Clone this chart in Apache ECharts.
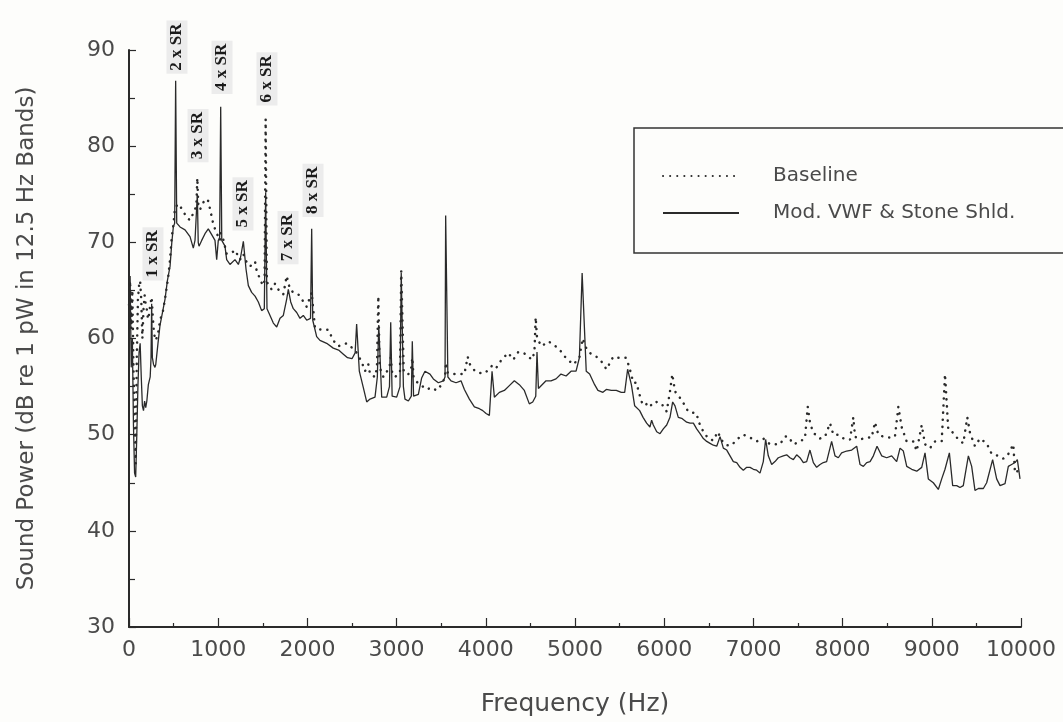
<!DOCTYPE html>
<html>
<head>
<meta charset="utf-8">
<script src="https://cdn.jsdelivr.net/npm/echarts@6/dist/echarts.min.js"></script>
<style>
  html, body { margin: 0; padding: 0; background: #fdfdfb; }
  #chart { width: 1063px; height: 722px; }
</style>
</head>
<body>
<div id="chart"></div>
<script>
// [frequency Hz, dB], 12.5 Hz bands
const baselineData = [
  [0,63.5],[12.5,66],[25,61],[37.5,65],[50,57],[62.5,52],[75,47],[87.5,58],[100,64],[112.5,65.5],
  [125,66],[137.5,64],[150,60],[162.5,63],[175,64.5],[187.5,63.5],[200,63],[212.5,62],[225,62.5],
  [237.5,63.5],[254,64.3],[265,62.5],[280,60.5],[300,59.8],[325,60.5],[350,62],[376,62.6],[404,64.1],
  [441,66.5],[460,68.2],[479,70.5],[497,71.8],[516,73.6],[553,74],[591,73.5],[647,72.6],[684,72.3],
  [740,73.4],[756,74],[766,76.7],[776,74],[796,73.4],[852,74.5],[889,74.3],[945,71.9],[975,71.1],
  [1020,70.2],[1028,71],[1057,70.3],[1095,68.8],[1151,68.9],[1188,69.2],[1244,68.2],[1282,68.8],
  [1300,68.2],[1357,67.5],[1413,68],[1432,67],[1469,66.2],[1500,65.5],[1520,66],[1532,82.8],[1545,66],
  [1562,65.5],[1600,65.1],[1637,65.7],[1693,64.8],[1730,64.6],[1768,66.5],[1805,65.1],[1842,64.8],
  [1898,64.6],[1936,64.1],[1992,63.3],[2048,64.8],[2085,61.1],[2104,61.1],[2160,60.9],[2235,60.9],
  [2290,59.8],[2347,59.2],[2440,59.5],[2478,59.2],[2534,58.8],[2608,57.6],[2646,56.6],[2683,57.3],
  [2702,56.3],[2758,56],[2780,57],[2795,64.4],[2810,57],[2852,56],[2920,57],[2934,58],[2950,56.5],
  [2983,56],[3038,56.5],[3052,67],[3062,67],[3080,56.5],[3132,56.3],[3165,57],[3176,58],[3190,56],
  [3225,55.5],[3337,54.7],[3393,54.9],[3449,54.6],[3505,55.2],[3543,56],[3554,57.5],[3566,56.5],
  [3610,56.3],[3666,56.3],[3760,56.3],[3797,58.1],[3823,57.3],[3879,56.6],[3935,56.4],[3991,56.4],
  [4084,57.3],[4121,57],[4177,57.8],[4252,58.5],[4308,57.8],[4364,58.6],[4420,58.5],[4458,58.3],
  [4514,57.8],[4545,58.5],[4559,62.2],[4575,60],[4626,59.2],[4701,59.7],[4757,59.4],[4831,58.8],
  [4888,58.1],[4944,57.6],[4981,57.3],[5049,58],[5086,60],[5126,59],[5166,58.5],[5241,58.1],
  [5297,57.6],[5353,56.8],[5428,58.1],[5484,58],[5522,58],[5570,58],[5607,57.1],[5654,55.4],
  [5690,55.4],[5710,54.6],[5748,53.4],[5785,53],[5822,53.4],[5860,53],[5916,53.4],[5972,53.2],
  [6028,52.4],[6065,54.5],[6091,56.3],[6121,54.5],[6196,53.6],[6270,52.4],[6364,52.2],[6383,51.4],
  [6439,50.3],[6495,49.6],[6551,49.4],[6600,50.3],[6645,49.4],[6701,48.9],[6757,48.9],[6813,49.5],
  [6887,50],[6962,49.7],[7037,49.3],[7111,49.6],[7186,49],[7298,49],[7354,49.8],[7392,49.8],
  [7448,49],[7504,49.2],[7578,49.6],[7609,52.9],[7635,51.2],[7672,50.2],[7747,49.6],[7803,49.8],
  [7859,51.2],[7896,50],[7952,50],[8027,49.5],[8083,49.5],[8120,51.8],[8139,49.8],[8195,49.5],
  [8270,49.7],[8326,49.7],[8363,51.3],[8400,50],[8456,49.8],[8531,49.7],[8587,49.8],[8625,52.9],
  [8662,50.8],[8718,49.3],[8793,49.3],[8831,48.3],[8887,51],[8924,49],[8980,48.6],[9036,49.3],
  [9111,49.3],[9148,56.3],[9185,50.5],[9241,50.2],[9297,49.5],[9353,49.1],[9398,51.8],[9428,50.2],
  [9484,48.8],[9540,49.6],[9615,49.1],[9671,48],[9746,47.8],[9802,47.5],[9858,48],[9914,49],
  [9933,46],[10000,46.5]
];

const modData = [
  [0,61],[12.5,66.5],[25,57],[37.5,60],[50,51],[62.5,46],[75,45.6],[87.5,50],[100,55],[112.5,58.5],
  [125,59.5],[137.5,56],[150,53],[162.5,52.5],[175,53.5],[187.5,52.8],[200,53.5],[217,55.2],
  [237.5,56],[247,58],[254,63.6],[262,58],[275,57.3],[291,57],[300,57.3],[325,59.5],[348,61.4],
  [375,62.7],[404,64.1],[430,66],[460,67.5],[480,70],[497,71.6],[512,72],[523,86.8],[535,72],
  [572,71.6],[628,71.3],[684,70.6],[721,69.4],[740,70.2],[756,70],[766,75],[776,70],[785,69.6],
  [815,70.2],[852,70.9],[889,71.4],[927,70.8],[964,70.2],[983,68.2],[1001,70.2],[1016,70.5],
  [1028,84.1],[1040,70.2],[1076,69.6],[1095,68.2],[1132,67.7],[1188,68.2],[1226,67.7],[1252,68.5],
  [1282,70.1],[1312,67.2],[1338,65.5],[1375,64.8],[1413,64.4],[1450,63.8],[1487,62.9],[1517,63.1],
  [1532,75.2],[1547,63.1],[1581,62.4],[1618,61.6],[1656,61.2],[1693,62.1],[1730,62.4],[1768,64.1],
  [1786,65.1],[1813,63.8],[1842,63.1],[1880,62.7],[1917,62.1],[1954,62.4],[1992,61.9],[2035,62.1],
  [2048,71.4],[2060,61.9],[2104,60.2],[2141,59.8],[2216,59.5],[2290,59],[2350,58.8],[2400,58.4],
  [2450,58],[2500,57.9],[2535,58.5],[2552,61.5],[2582,56.6],[2627,54.9],[2665,53.4],[2702,53.7],
  [2758,53.9],[2784,56],[2800,61.4],[2833,53.9],[2889,53.9],[2920,55],[2934,61.7],[2950,54],
  [3001,53.9],[3038,55],[3052,66.8],[3062,66.8],[3076,55],[3094,53.7],[3132,53.5],[3165,54],
  [3176,59.7],[3190,54],[3206,53.9],[3244,54.2],[3281,55.9],[3318,56.6],[3374,56.3],[3412,55.8],
  [3468,55.4],[3524,55.6],[3543,56],[3550,72.8],[3562,72.8],[3575,56],[3610,55.6],[3666,55.4],
  [3722,55.6],[3760,54.7],[3816,53.7],[3872,52.9],[3928,52.7],[3966,52.5],[4003,52.2],[4040,52],
  [4070,56.6],[4096,53.9],[4152,54.4],[4208,54.6],[4264,55.1],[4320,55.6],[4376,55.2],[4432,54.6],
  [4488,53.2],[4526,53.4],[4560,54],[4574,58.6],[4590,54.8],[4608,54.7],[4675,55.6],[4731,55.6],
  [4787,55.8],[4843,56.3],[4900,56.1],[4956,56.6],[5012,56.6],[5049,58],[5080,66.8],[5092,66.8],
  [5126,56.6],[5164,56.3],[5220,55.2],[5257,54.6],[5313,54.4],[5351,54.7],[5407,54.6],[5463,54.6],
  [5519,54.4],[5557,54.4],[5590,56.8],[5632,55.2],[5669,53],[5725,52.5],[5763,51.8],[5803,51.2],
  [5840,50.8],[5859,51.5],[5878,51],[5916,50.3],[5953,50.1],[5990,50.6],[6028,51],[6065,51.8],
  [6095,53.4],[6121,53],[6158,51.8],[6196,51.7],[6252,51.3],[6290,51.2],[6327,51.2],[6364,50.6],
  [6402,50.1],[6439,49.6],[6477,49.3],[6514,49.1],[6551,48.9],[6589,48.8],[6626,49.8],[6663,48.6],
  [6701,48.4],[6738,47.8],[6775,47.2],[6813,47.1],[6850,46.6],[6887,46.3],[6925,46.6],[6962,46.6],
  [7000,46.4],[7037,46.3],[7074,46],[7111,47.2],[7137,49.5],[7167,47.8],[7205,46.9],[7242,47.2],
  [7279,47.6],[7335,47.8],[7373,47.9],[7410,47.6],[7448,47.4],[7485,47.9],[7522,47.6],[7560,47.1],
  [7597,47.2],[7634,48.4],[7672,47.1],[7709,46.6],[7747,46.9],[7784,47.1],[7821,47.2],[7877,49.3],
  [7915,47.8],[7952,47.6],[7989,48.1],[8045,48.3],[8102,48.4],[8158,48.8],[8195,46.9],[8233,46.7],
  [8270,47.1],[8308,47.2],[8345,47.8],[8386,48.8],[8438,47.8],[8494,47.6],[8550,47.8],[8606,47.2],
  [8644,48.6],[8681,48.3],[8719,46.7],[8775,46.4],[8831,46.2],[8887,46.6],[8924,48.1],[8961,45.4],
  [9017,45],[9073,44.3],[9111,45.4],[9148,46.4],[9197,48.1],[9234,44.7],[9279,44.7],[9316,44.5],
  [9353,44.7],[9410,47.8],[9447,46.7],[9484,44.2],[9522,44.4],[9578,44.4],[9615,45],[9682,47.4],
  [9727,45.4],[9765,44.7],[9821,44.9],[9858,46.7],[9895,46.9],[9933,47.1],[9959,47.4],[9989,45.4]
];

// shaft-rate harmonic labels: text, frequency and dB where the label sits
const srLabels = ['1 x SR', '2 x SR', '3 x SR', '4 x SR', '5 x SR', '6 x SR', '7 x SR', '8 x SR'];
const srLabelFreq = [269, 538, 774, 1043, 1278, 1547, 1783, 2063];
const srLabelDb = [68.8, 90.3, 81.1, 88.2, 74, 87, 70.5, 75.4];

const font = 'DejaVu Sans';
const ink = '#2a2a2a';
const textGray = '#4a4a4a';

const chart = echarts.init(document.getElementById('chart'));

const option = {
  backgroundColor: '#fdfdfb',
  animation: false,
  grid: { left: 129, right: 42, top: 50, bottom: 85 },
  legend: {
    left: 634,
    top: 128,
    orient: 'vertical',
    itemWidth: 76,
    itemHeight: 14,
    itemGap: 17,
    padding: [38, 200, 30, 28],
    borderColor: '#333',
    borderWidth: 1.5,
    itemStyle: { opacity: 0 },
    textStyle: { fontFamily: font, fontSize: 20, color: textGray, padding: [0, 0, 0, 29] },
    data: ['Baseline', 'Mod. VWF & Stone Shld.']
  },
  xAxis: {
    type: 'value',
    min: 0,
    max: 10000,
    interval: 1000,
    name: 'Frequency (Hz)',
    nameLocation: 'middle',
    nameGap: 65,
    nameTextStyle: { fontFamily: font, fontSize: 25, color: textGray },
    axisLine: { lineStyle: { color: ink, width: 2 } },
    axisTick: { inside: true, length: 9, lineStyle: { color: ink, width: 1.2 } },
    minorTick: { show: true, splitNumber: 2, length: 4, lineStyle: { color: ink, width: 1.2 } },
    axisLabel: { fontFamily: font, fontSize: 22, color: textGray, margin: 12, formatter: v => String(v) },
    splitLine: { show: false }
  },
  yAxis: {
    type: 'value',
    min: 30,
    max: 90,
    interval: 10,
    name: 'Sound Power (dB re 1 pW in 12.5 Hz Bands)',
    nameLocation: 'middle',
    nameGap: 90,
    nameTextStyle: { fontFamily: font, fontSize: 23, color: textGray },
    axisLine: { show: true, lineStyle: { color: ink, width: 2 } },
    axisTick: { show: true, inside: true, length: 7, lineStyle: { color: ink, width: 1.2 } },
    minorTick: { show: true, splitNumber: 2, length: 6, lineStyle: { color: ink, width: 1.2 } },
    axisLabel: { fontFamily: font, fontSize: 22, color: textGray, margin: 14 },
    splitLine: { show: false }
  },
  series: [
    {
      name: 'Baseline',
      type: 'line',
      data: baselineData,
      symbol: 'none',
      color: '#2a2a2a',
      lineStyle: { color: '#2a2a2a', width: 2.5, type: [0.1, 7], cap: 'round' },
      z: 2
    },
    {
      name: 'Mod. VWF & Stone Shld.',
      type: 'line',
      data: modData,
      symbol: 'none',
      color: ink,
      lineStyle: { color: ink, width: 1.3 },
      z: 3
    }
  ]
};

chart.setOption(option);

// harmonic labels placed through the axes
chart.setOption({
  graphic: srLabels.map((txt, i) => {
    const p = chart.convertToPixel({ gridIndex: 0 }, [srLabelFreq[i], srLabelDb[i]]);
    return {
      type: 'text',
      x: p[0],
      y: p[1],
      rotation: Math.PI / 2,
      z: 10,
      style: {
        text: txt,
        font: 'bold 17px "Liberation Serif"',
        fill: '#1a1a1a',
        align: 'center',
        verticalAlign: 'middle',
        backgroundColor: '#ececec',
        padding: [2, 3]
      }
    };
  })
});
</script>
</body>
</html>
